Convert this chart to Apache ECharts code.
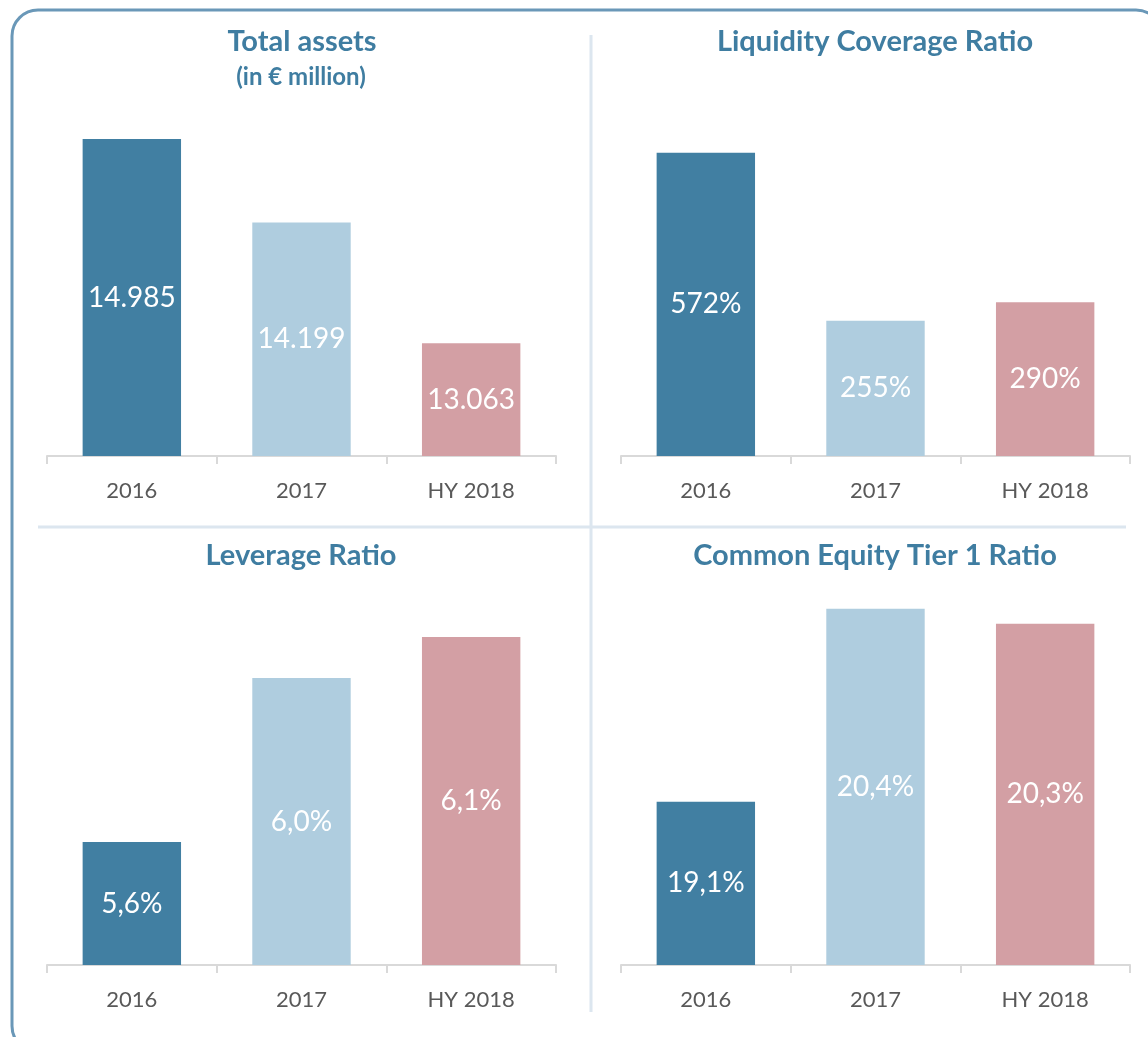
<!DOCTYPE html>
<html>
<head>
<meta charset="utf-8">
<script src="https://cdn.jsdelivr.net/npm/echarts@6/dist/echarts.min.js"></script>
<style>
  html, body { margin: 0; padding: 0; background: #fff; }
  #ech { width: 1148px; height: 1037px; }
</style>
</head>
<body>
<div id="ech"></div>
<script>
var categories = ['2016', '2017', 'HY 2018'];
var barColors = ['#417fa2', '#afcddf', '#d39fa4'];

var totalAssets = [14985, 14199, 13063];
var lcr = [572, 255, 290];
var leverage = [5.6, 6.0, 6.1];
var cet1 = [19.1, 20.4, 20.3];

var panelTitles = ['Total assets', 'Liquidity Coverage Ratio', 'Leverage Ratio', 'Common Equity Tier 1 Ratio'];

var titleColor = '#3f7da1';
var fontFam = 'Lato, "Open Sans", sans-serif';

function fmtThousands(v) {
    return String(v).replace(/\B(?=(\d{3})+(?!\d))/g, '.');
}
function fmtPct1(v) {
    return v.toFixed(1).replace('.', ',') + '%';
}

// 每个面板的刻度范围（y轴隐藏）
var panels = [
    { data: totalAssets, min: 12000, max: 15000, fmt: fmtThousands, left: 47, top: 137.5, height: 318.5 },
    { data: lcr, min: 0, max: 600, fmt: function (v) { return v + '%'; }, left: 621, top: 138, height: 318 },
    { data: leverage, min: 5.3, max: 6.2, fmt: fmtPct1, left: 47, top: 596, height: 369 },
    { data: cet1, min: 18, max: 20.5, fmt: fmtPct1, left: 621, top: 594, height: 371 }
];

var ownChart = echarts.init(document.getElementById('ech'));

var grids = [], xAxes = [], yAxes = [], series = [];
panels.forEach(function (p, i) {
    grids.push({ left: p.left, width: 509, top: p.top, height: p.height });
    xAxes.push({
        type: 'category',
        gridIndex: i,
        data: categories,
        axisLine: { lineStyle: { color: '#d9d9d9', width: 2 } },
        axisTick: { show: true, length: 8, lineStyle: { color: '#d9d9d9', width: 2 } },
        axisLabel: { color: '#595959', fontSize: 22, fontFamily: fontFam, margin: 24 }
    });
    yAxes.push({
        type: 'value',
        gridIndex: i,
        min: p.min,
        max: p.max,
        show: false,
        splitLine: { show: false }
    });
    series.push({
        type: 'bar',
        xAxisIndex: i,
        yAxisIndex: i,
        barCategoryGap: '42%',
        data: p.data.map(function (v, j) {
            return { value: v, itemStyle: { color: barColors[j] } };
        }),
        label: {
            show: true,
            position: 'inside',
            color: '#fff',
            fontSize: 28,
            fontFamily: fontFam,
            formatter: function (params) { return p.fmt(params.value); }
        },
        silent: true
    });
});

var option = {
    animation: false,
    grid: grids,
    xAxis: xAxes,
    yAxis: yAxes,
    series: series,
    graphic: [
        // 外框
        { type: 'rect', shape: { x: 12, y: 10, width: 1150, height: 1042, r: 26 },
          style: { fill: 'none', stroke: '#6a98b8', lineWidth: 3 }, silent: true },
        // 分隔线
        { type: 'line', shape: { x1: 591, y1: 35, x2: 591, y2: 1012 },
          style: { stroke: '#dce6ef', lineWidth: 3 }, silent: true },
        { type: 'line', shape: { x1: 38, y1: 527, x2: 1126, y2: 527 },
          style: { stroke: '#dce6ef', lineWidth: 3 }, silent: true },
        // 标题
        { type: 'text', style: { x: 302, y: 42, text: panelTitles[0], fill: titleColor, fontSize: 29, fontWeight: 'bold', fontFamily: fontFam, align: 'center', verticalAlign: 'middle' } },
        { type: 'text', style: { x: 301, y: 77, text: '(in € million)', fill: titleColor, fontSize: 24, fontWeight: 'bold', fontFamily: fontFam, align: 'center', verticalAlign: 'middle' } },
        { type: 'text', style: { x: 875, y: 42, text: panelTitles[1], fill: titleColor, fontSize: 29, fontWeight: 'bold', fontFamily: fontFam, align: 'center', verticalAlign: 'middle' } },
        { type: 'text', style: { x: 301, y: 556, text: panelTitles[2], fill: titleColor, fontSize: 29, fontWeight: 'bold', fontFamily: fontFam, align: 'center', verticalAlign: 'middle' } },
        { type: 'text', style: { x: 875, y: 556, text: panelTitles[3], fill: titleColor, fontSize: 29, fontWeight: 'bold', fontFamily: fontFam, align: 'center', verticalAlign: 'middle' } }
    ]
};

ownChart.setOption(option);
</script>
</body>
</html>
